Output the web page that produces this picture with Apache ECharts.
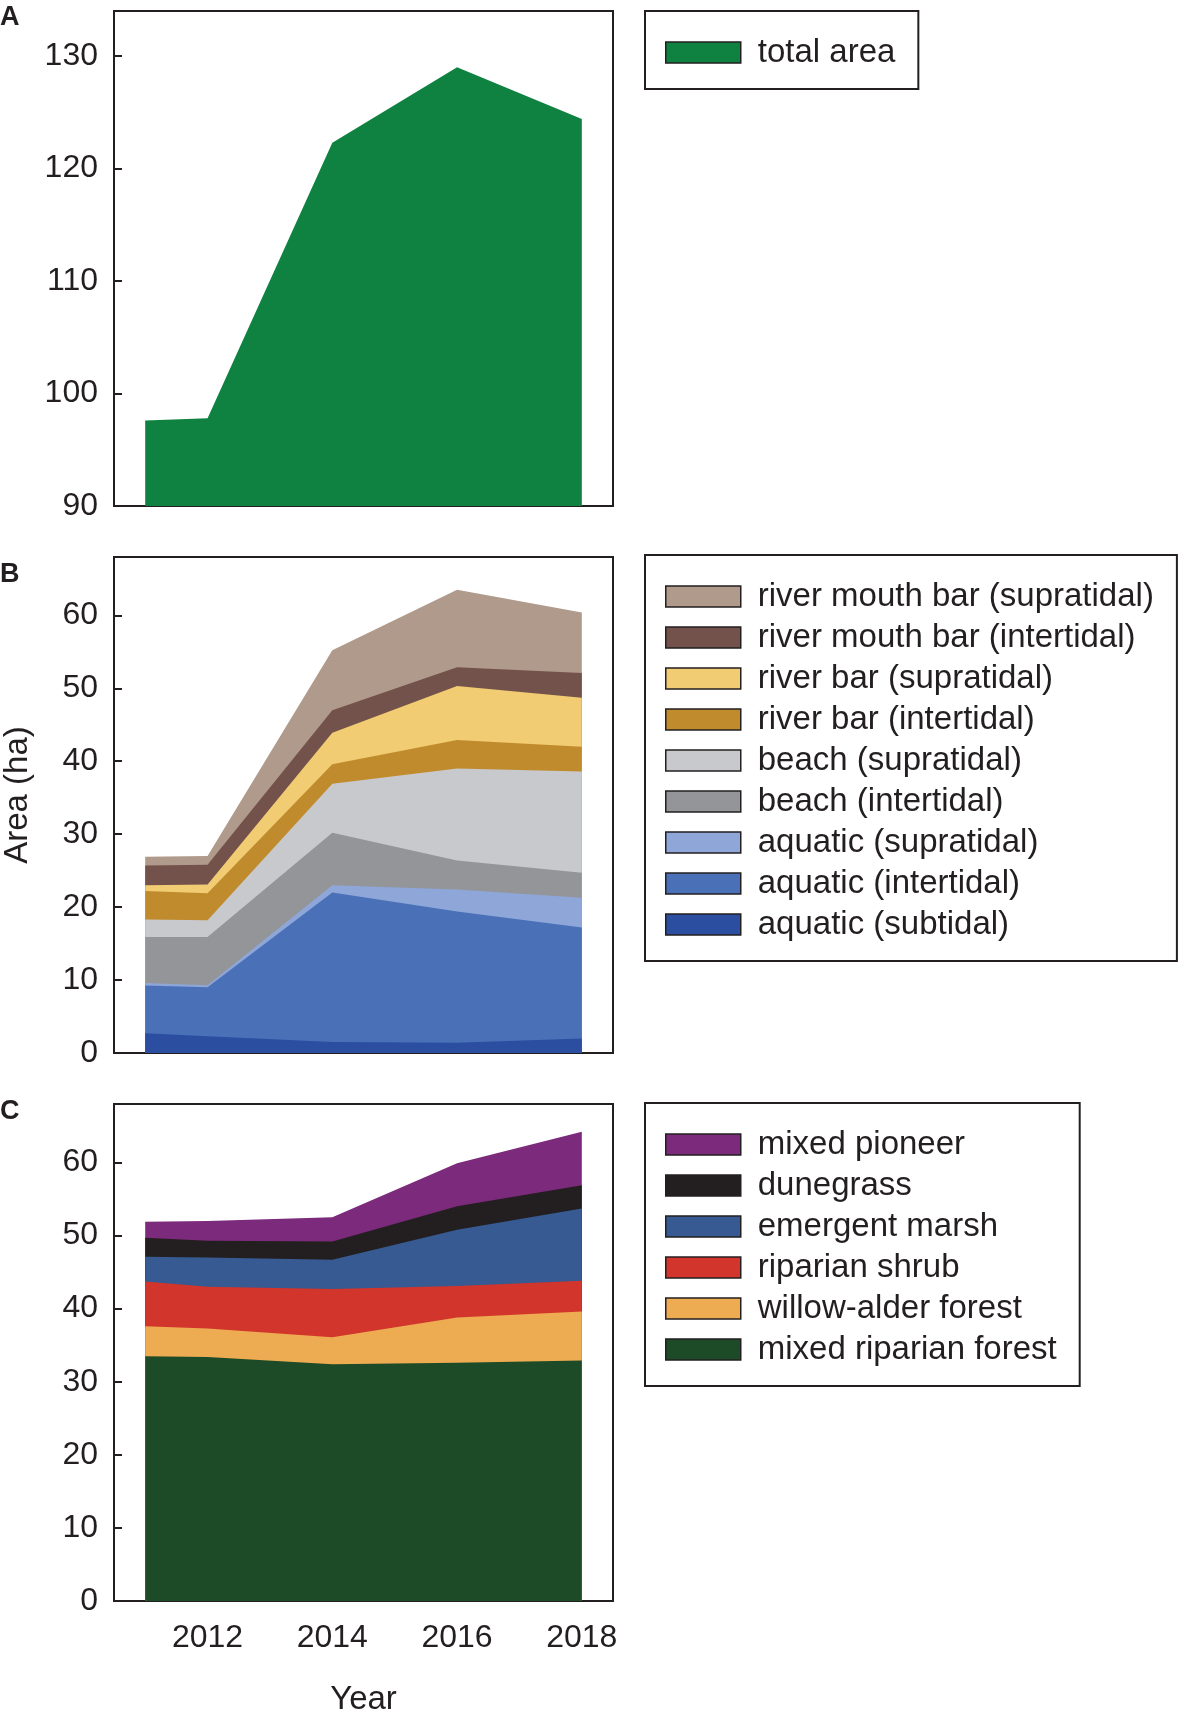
<!DOCTYPE html>
<html>
<head>
<meta charset="utf-8">
<script src="https://cdn.jsdelivr.net/npm/echarts@6/dist/echarts.min.js"></script>
<style>
  html, body { margin: 0; padding: 0; background: #fff; }
  #chart-container { width: 1181px; height: 1714px; }
</style>
</head>
<body>
<div id="chart-container"></div>
<script>
var dom = document.getElementById("chart-container");
var myChart = echarts.init(dom, null, { renderer: "canvas" });

// survey years
const years = [2011, 2012, 2014, 2016, 2018];

// panel A
const totalArea = [97.6, 97.8, 122.3, 129.0, 124.4];

// panel B (layers, bottom to top)
const aquaticSubtidal = [2.7, 2.3, 1.5, 1.4, 2.0];
const aquaticIntertidal = [6.55, 6.7, 20.5, 18.0, 15.2];
const aquaticSupratidal = [0.35, 0.3, 1.0, 3.0, 4.1];
const beachIntertidal = [6.3, 6.6, 7.2, 4.0, 3.4];
const beachSupratidal = [2.4, 2.3, 6.7, 12.6, 13.9];
const riverBarIntertidal = [3.9, 3.7, 2.7, 3.9, 3.4];
const riverBarSupratidal = [0.8, 1.2, 4.3, 7.4, 6.7];
const mouthBarIntertidal = [2.7, 2.7, 3.1, 2.6, 3.4];
const mouthBarSupratidal = [1.2, 1.2, 8.2, 10.6, 8.3];

// panel C (layers, bottom to top)
const mixedRiparianForest = [33.5, 33.4, 32.4, 32.6, 32.9];
const willowAlderForest = [4.1, 3.9, 3.7, 6.2, 6.7];
const riparianShrub = [6.1, 5.7, 6.6, 4.3, 4.2];
const emergentMarsh = [3.4, 4.0, 4.0, 7.7, 9.9];
const dunegrass = [2.6, 2.3, 2.5, 3.2, 3.2];
const mixedPioneer = [2.2, 2.7, 3.3, 5.9, 7.3];

const xTicks = [2012, 2014, 2016, 2018];

const layersB = [
  ["aquatic (subtidal)", aquaticSubtidal, "#2b4ea1"],
  ["aquatic (intertidal)", aquaticIntertidal, "#4a71b7"],
  ["aquatic (supratidal)", aquaticSupratidal, "#8ea6d8"],
  ["beach (intertidal)", beachIntertidal, "#939598"],
  ["beach (supratidal)", beachSupratidal, "#c8c9cc"],
  ["river bar (intertidal)", riverBarIntertidal, "#c08b2d"],
  ["river bar (supratidal)", riverBarSupratidal, "#f1cc72"],
  ["river mouth bar (intertidal)", mouthBarIntertidal, "#73524b"],
  ["river mouth bar (supratidal)", mouthBarSupratidal, "#af9a8b"]
];

const layersC = [
  ["mixed riparian forest", mixedRiparianForest, "#1e4b27"],
  ["willow-alder forest", willowAlderForest, "#edab52"],
  ["riparian shrub", riparianShrub, "#d1352b"],
  ["emergent marsh", emergentMarsh, "#365a91"],
  ["dunegrass", dunegrass, "#231f20"],
  ["mixed pioneer", mixedPioneer, "#7c2a7b"]
];

const FONT = "'Liberation Sans', Arial, Helvetica, sans-serif";
const INK = "#231f20";

function pairs(vals) {
  return years.map(function (y, i) { return [y, vals[i]]; });
}

function areaSeries(name, vals, color, idx) {
  return {
    name: name,
    type: "line",
    xAxisIndex: idx,
    yAxisIndex: idx,
    data: pairs(vals),
    color: color,
    symbol: "none",
    showSymbol: false,
    lineStyle: { width: 0, color: color },
    areaStyle: { color: color, opacity: 1 },
    emphasis: { disabled: true },
    z: 2
  };
}

// stacked look: running totals, drawn top layer first so lower layers cover it
function stackedSeries(layers, idx) {
  var run = years.map(function () { return 0; });
  var out = layers.map(function (l) {
    run = run.map(function (v, i) { return v + l[1][i]; });
    return areaSeries(l[0], run.slice(), l[2], idx);
  });
  return out.reverse();
}

function legendBox(top, names) {
  return {
    orient: "vertical",
    left: 645,
    top: top,
    data: names,
    icon: "rect",
    itemWidth: 75,
    itemHeight: 21,
    itemGap: 8,
    padding: [25, 23, 20, 20],
    borderColor: INK,
    borderWidth: 2,
    selectedMode: false,
    itemStyle: { borderColor: INK, borderWidth: 1.5 },
    textStyle: {
      fontFamily: FONT, fontSize: 33, color: INK,
      lineHeight: 33, padding: [0, 0, 0, 12]
    }
  };
}

function xAxisDef(idx, showLabels) {
  return {
    type: "value",
    gridIndex: idx,
    min: 2010.5,
    max: 2018.5,
    interval: 0.5,
    axisLine: { show: false },
    axisTick: { show: false },
    splitLine: { show: false },
    axisLabel: {
      show: showLabels,
      margin: 21,
      fontFamily: FONT, fontSize: 32, color: INK,
      showMinLabel: false, showMaxLabel: false,
      formatter: function (v) { return xTicks.indexOf(v) >= 0 ? String(v) : ""; }
    },
    name: showLabels ? "Year" : "",
    nameLocation: "middle",
    nameGap: 82,
    nameTextStyle: { fontFamily: FONT, fontSize: 33, color: INK }
  };
}

function yAxisDef(idx, min, max, name) {
  return {
    type: "value",
    gridIndex: idx,
    min: min,
    max: max,
    interval: 10,
    axisLine: { show: false },
    axisTick: { show: true, inside: true, length: 8, lineStyle: { color: INK, width: 2 } },
    splitLine: { show: false },
    axisLabel: {
      margin: 16,
      padding: [3, 0, 0, 0],
      fontFamily: FONT, fontSize: 32, color: INK,
      showMaxLabel: false,
      formatter: function (v) { return v % 10 === 0 ? String(v) : ""; }
    },
    name: name || "",
    nameLocation: "middle",
    nameGap: 80,
    nameTextStyle: { fontFamily: FONT, fontSize: 33, color: INK, padding: [0, 0, 0, 20] }
  };
}

function panelLabel(text, top) {
  return {
    text: text, left: 0, top: top, padding: 0,
    textStyle: { fontFamily: FONT, fontSize: 27, fontWeight: "bold", color: INK }
  };
}

function gridBox(top, height) {
  return {
    left: 114, top: top, width: 499, height: height,
    outerBoundsMode: "none",
    containLabel: false,
    show: true, borderColor: INK, borderWidth: 2, backgroundColor: "transparent"
  };
}

var option = {
  animation: false,
  backgroundColor: "#fff",
  title: [panelLabel("A", 4), panelLabel("B", 561), panelLabel("C", 1098)],
  grid: [gridBox(11, 495), gridBox(557, 496), gridBox(1104, 497)],
  xAxis: [xAxisDef(0, false), xAxisDef(1, false), xAxisDef(2, true)],
  yAxis: [
    yAxisDef(0, 90, 134),
    yAxisDef(1, 0, 68, "Area (ha)"),
    yAxisDef(2, 0, 68)
  ],
  legend: [
    legendBox(11, ["total area"]),
    legendBox(555, layersB.map(function (l) { return l[0]; }).reverse()),
    legendBox(1103, layersC.map(function (l) { return l[0]; }).reverse())
  ],
  series: [areaSeries("total area", totalArea, "#0f8241", 0)]
    .concat(stackedSeries(layersB, 1))
    .concat(stackedSeries(layersC, 2))
};

if (option && typeof option === "object") {
  myChart.setOption(option);
}

window.addEventListener("resize", myChart.resize);
</script>
</body>
</html>
